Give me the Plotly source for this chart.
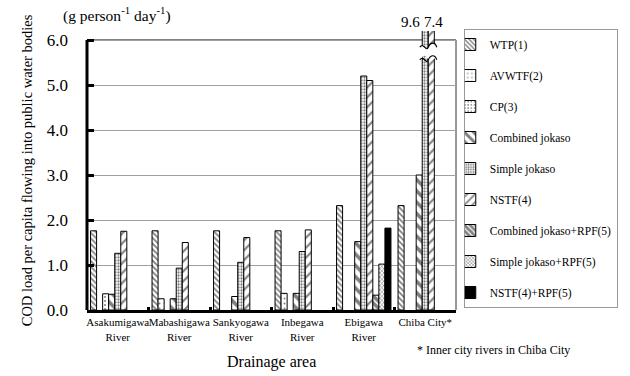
import plotly.graph_objects as go

# COD load per capita (g person^-1 day^-1) by drainage area and treatment type
areas = ["Asakumigawa<br>River", "Mabashigawa<br>River", "Sankyogawa<br>River",
         "Inbegawa<br>River", "Ebigawa<br>River", "Chiba City*"]

wtp = [1.76, 1.76, 1.76, 1.76, 2.32, 2.32]
avwtf = [None, 0.25, None, 0.37, None, None]
cp = [0.36, None, None, None, None, None]
combined_jokaso = [0.35, 0.25, 0.30, 0.37, 1.52, 3.0]
simple_jokaso = [1.26, 0.93, 1.06, 1.30, 5.20, 9.6]
nstf = [1.75, 1.50, 1.61, 1.78, 5.10, 7.4]
combined_jokaso_rpf = [None, None, None, None, 0.33, None]
simple_jokaso_rpf = [None, None, None, None, 1.02, None]
nstf_rpf = [None, None, None, None, 1.82, None]

y_ticks = [0, 1, 2, 3, 4, 5, 6]
y_max = 6.0

FONT = "Liberation Serif, Times New Roman, serif"

series = [
    ("WTP(1)", wtp, dict(shape="\\", size=4, solidity=0.45)),
    ("AVWTF(2)", avwtf, dict(shape=".", size=5, solidity=0.12)),
    ("CP(3)", cp, dict(shape=".", size=4, solidity=0.2)),
    ("Combined jokaso", combined_jokaso, dict(shape="\\", size=8, solidity=0.45)),
    ("Simple jokaso", simple_jokaso, dict(shape=".", size=3, solidity=0.45)),
    ("NSTF(4)", nstf, dict(shape="/", size=7, solidity=0.3)),
    ("Combined jokaso+RPF(5)", combined_jokaso_rpf, dict(shape="\\", size=5, solidity=0.7)),
    ("Simple jokaso+RPF(5)", simple_jokaso_rpf, dict(shape="x", size=3, solidity=0.4)),
    ("NSTF(4)+RPF(5)", nstf_rpf, None),
]

fig = go.Figure()
for name, vals, pat in series:
    if pat is None:
        marker = dict(color="black", line=dict(color="black", width=1))
    else:
        marker = dict(color="white", line=dict(color="black", width=1),
                      pattern=dict(fgcolor="black", bgcolor="white", **pat))
    fig.add_trace(go.Bar(name=name, x=areas, y=vals, marker=marker,
                         legendgroup=name))

n_cat = len(areas)
n_series = len(series)
bargap = 0.115
slot = (1 - bargap) / n_series

# break marks across the two off-scale Chiba City bars
ci = areas.index("Chiba City*")
left_bar = 4  # Simple jokaso
right_bar = 5  # NSTF(4)


def bar_center(k):
    return ci - (1 - bargap) / 2 + slot * (k + 0.5)


def to_paper(xv):
    return (xv + 0.5) / n_cat


xa = to_paper(bar_center(left_bar) - slot * 0.9)
xb = to_paper(bar_center(right_bar) + slot * 0.9)
xm = (xa + xb) / 2
y_hi, y_lo, amp = 5.84, 5.56, 0.12


def wave(y):
    return (f"M{xa},{y} C{xa + (xm - xa) * 0.5},{y + amp} {xm - (xm - xa) * 0.3},{y - amp} {xm},{y} "
            f"S{xb - (xb - xm) * 0.2},{y + amp} {xb},{y}")


band = (f"M{xa},{y_hi} C{xa + (xm - xa) * 0.5},{y_hi + amp} {xm - (xm - xa) * 0.3},{y_hi - amp} {xm},{y_hi} "
        f"S{xb - (xb - xm) * 0.2},{y_hi + amp} {xb},{y_hi} L{xb},{y_lo} "
        f"C{xb - (xb - xm) * 0.2},{y_lo + amp} {xm + (xb - xm) * 0.3},{y_lo - amp} {xm},{y_lo} "
        f"S{xa + (xm - xa) * 0.5},{y_lo + amp} {xa},{y_lo} Z")

shapes = [
    # frame: top and right edges
    dict(type="line", xref="paper", yref="y", x0=0, x1=1, y0=y_max, y1=y_max,
         line=dict(color="black", width=1), layer="below"),
    dict(type="line", xref="paper", yref="y", x0=1, x1=1, y0=0, y1=y_max,
         line=dict(color="#333", width=1), layer="below"),
    # heavy value axis
    dict(type="line", xref="paper", yref="y", x0=0, x1=0, y0=0, y1=y_max,
         line=dict(color="black", width=3)),
    dict(type="path", xref="paper", yref="y", path=band,
         fillcolor="white", line=dict(color="white", width=0)),
    dict(type="path", xref="paper", yref="y", path=wave(y_hi),
         line=dict(color="black", width=1.2)),
    dict(type="path", xref="paper", yref="y", path=wave(y_lo),
         line=dict(color="black", width=1.2)),
]

annotations = [
    dict(text="COD load per capita flowing into public water bodies",
         xref="paper", yref="paper", x=(25 - 87) / 380, y=0.5, textangle=-90,
         showarrow=False, font=dict(family=FONT, size=14.5, color="black"),
         xanchor="center", yanchor="middle"),
    dict(text="(g person<sup>-1</sup> day<sup>-1</sup>)",
         xref="paper", yref="paper", x=(60 - 87) / 380, y=(310 - 15) / 279,
         showarrow=False, font=dict(family=FONT, size=15.5, color="black"),
         xanchor="left", yanchor="middle"),
    dict(text="Drainage area", xref="paper", yref="paper", x=0.5,
         y=(310 - 362) / 279, showarrow=False,
         font=dict(family=FONT, size=16, color="black"),
         xanchor="center", yanchor="middle"),
    dict(text="* Inner city rivers in Chiba City", xref="paper", yref="paper",
         x=(425 - 87) / 380, y=(310 - 350) / 279, showarrow=False,
         font=dict(family=FONT, size=12, color="black"),
         xanchor="left", yanchor="middle"),
    dict(text=f"{simple_jokaso[ci]:.1f}", xref="paper", yref="paper",
         x=(420 - 87) / 380, y=(310 - 22) / 279, showarrow=False,
         font=dict(family=FONT, size=15, color="black"),
         xanchor="center", yanchor="middle"),
    dict(text=f"{nstf[ci]:.1f}", xref="paper", yref="paper",
         x=(444 - 87) / 380, y=(310 - 22) / 279, showarrow=False,
         font=dict(family=FONT, size=15, color="black"),
         xanchor="center", yanchor="middle"),
]

fig.update_layout(
    width=630, height=376,
    margin=dict(l=87, r=163, t=31, b=66, pad=0),
    paper_bgcolor="white", plot_bgcolor="white",
    barmode="group", bargap=bargap, bargroupgap=0,
    font=dict(family=FONT, color="black"),
    showlegend=True,
    legend=dict(x=(475 - 87) / 380, y=(310 - 29) / 279, xanchor="left",
                yanchor="top", bordercolor="#999", borderwidth=1,
                font=dict(family=FONT, size=11.5, color="black"),
                tracegroupgap=12, indentation=-15, itemwidth=30,
                maxheight=400, bgcolor="white"),
    shapes=shapes,
    annotations=annotations,
)

fig.update_xaxes(
    showline=True, linecolor="black", linewidth=3,
    ticks="inside", tickson="boundaries", ticklen=3, tickwidth=3,
    tickcolor="black", showgrid=False, tickangle=0,
    tickfont=dict(family=FONT, size=11, color="black"),
    range=[-0.5, n_cat - 0.5],
)
fig.update_yaxes(
    range=[0, 6.2], tickvals=y_ticks, tickformat=".1f",
    showline=False, zeroline=False, showgrid=True, gridcolor="#a0a0a0",
    gridwidth=1, ticks="inside", ticklen=7, tickwidth=2.5, tickcolor="black",
    ticklabelstandoff=18,
    tickfont=dict(family=FONT, size=17, color="black"),
)

fig.write_html("out.html")
